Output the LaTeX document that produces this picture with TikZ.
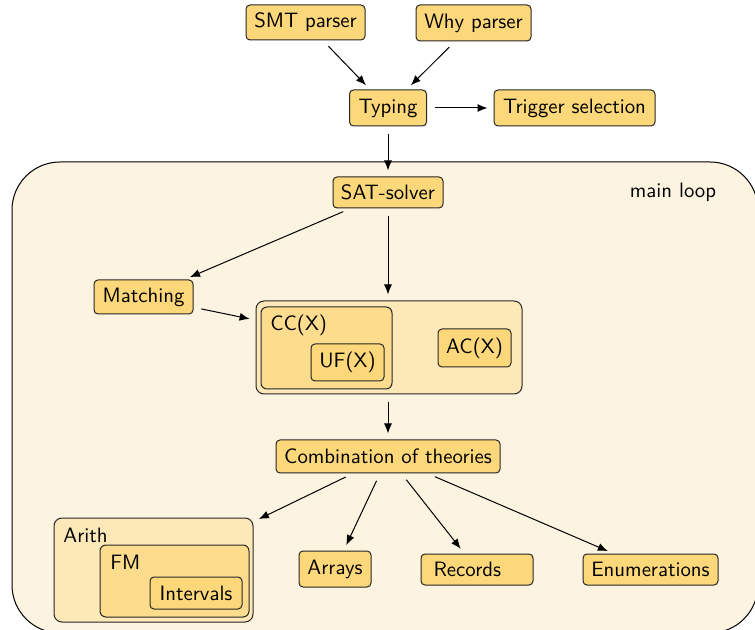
\documentclass[tikz,border=0pt]{standalone}
\usetikzlibrary{arrows.meta}
\definecolor{boxc}{RGB}{253,216,122}
\definecolor{contc}{RGB}{253,232,184}
\definecolor{bgc}{RGB}{253,243,225}
\begin{document}
\begin{tikzpicture}[x=0.5pt,y=-0.5pt, font=\fontsize{10.4}{12.5}\sffamily,
  box/.style={draw=black!85, line width=0.5pt, fill=boxc, rounded corners=2pt, inner sep=0pt, align=center},
  cont/.style={draw=black!85, line width=0.5pt, fill=contc, rounded corners=4pt, inner sep=0pt},
  arr/.style={-{Latex[length=5pt,width=4pt]}, line width=0.5pt, shorten >=3pt, shorten <=4pt}]
\path[use as bounding box] (0,0) rectangle (755,630);
\clip (0,0) rectangle (755,630);
% main loop background
\draw[line width=0.5pt, fill=bgc, rounded corners=24pt] (12,162) rectangle (758,633);
\node[anchor=base] (ml) at (673,198) {main loop};
% top nodes
\node[box, minimum width=59.5pt, minimum height=17.5pt] (smt) at (305.5,22.5) {SMT parser};
\node[box, minimum width=57.5pt, minimum height=18pt] (why) at (473.5,23) {Why parser};
\node[box, minimum width=38.5pt, minimum height=18pt] (typ) at (388,108) {Typing};
\node[box, minimum width=80.5pt, minimum height=18pt] (trig) at (574.5,108) {Trigger selection};
\node[box, minimum width=55pt, minimum height=15.5pt] (sat) at (388,192.5) {SAT-solver};
\node[box, minimum width=49.5pt, minimum height=17pt] (match) at (143.5,297) {Matching};
% CC / AC container
\node[cont, minimum width=133pt, minimum height=46.5pt] (ccac) at (389,347.5) {};
\node[box, fill=boxc!70!contc, rounded corners=3pt, minimum width=65.5pt, minimum height=41pt] (cc) at (326.5,348) {};
\node[anchor=base west, inner sep=0pt] (cclab) at (270,331) {CC(X)};
\node[box, minimum width=36.5pt, minimum height=18.5pt] (uf) at (347.5,362.5) {UF(X)};
\node[box, minimum width=36.5pt, minimum height=19pt] (ac) at (474.5,348) {AC(X)};
% combination
\node[box, minimum width=112pt, minimum height=16.5pt] (comb) at (388,456.5) {Combination of theories};
% Arith container
\node[cont, minimum width=99.5pt, minimum height=52pt] (arith) at (153.5,570) {};
\node[anchor=base west, inner sep=0pt] (arlab) at (63,542) {Arith};
\node[box, fill=boxc!70!contc, rounded corners=3pt, minimum width=74.5pt, minimum height=36pt] (fm) at (174.5,581) {};
\node[anchor=base west, inner sep=0pt] (fmlab) at (110,569) {FM};
\node[box, minimum width=46pt, minimum height=16pt] (intv) at (196,593) {Intervals};
% theories
\node[box, minimum width=36pt, minimum height=18pt] (arrays) at (335,569) {Arrays};
\node[box, minimum width=56pt, minimum height=15.5pt, text width=51.5pt, align=left, inner xsep=0pt] (rec) at (477,569.5) {\hspace*{4pt}Records};
\node[box, minimum width=67.5pt, minimum height=15.5pt] (enum) at (650.5,569.5) {Enumerations};
% arrows
\draw[arr] (smt) -- (typ);
\draw[arr] (why) -- (typ);
\draw[arr] (typ) -- (trig);
\draw[arr] (typ) -- (sat);
\draw[arr] (sat) -- (match);
\draw[arr] (sat) -- (sat |- ccac.north);
\draw[arr] (match) -- (ccac);
\draw[arr] (ccac.south -| comb) -- (comb);
\draw[arr] (comb) -- (arith);
\draw[arr] (comb) -- (arrays);
\draw[arr] (comb) -- (rec);
\draw[arr] (comb) -- (enum);
\end{tikzpicture}
\end{document}
